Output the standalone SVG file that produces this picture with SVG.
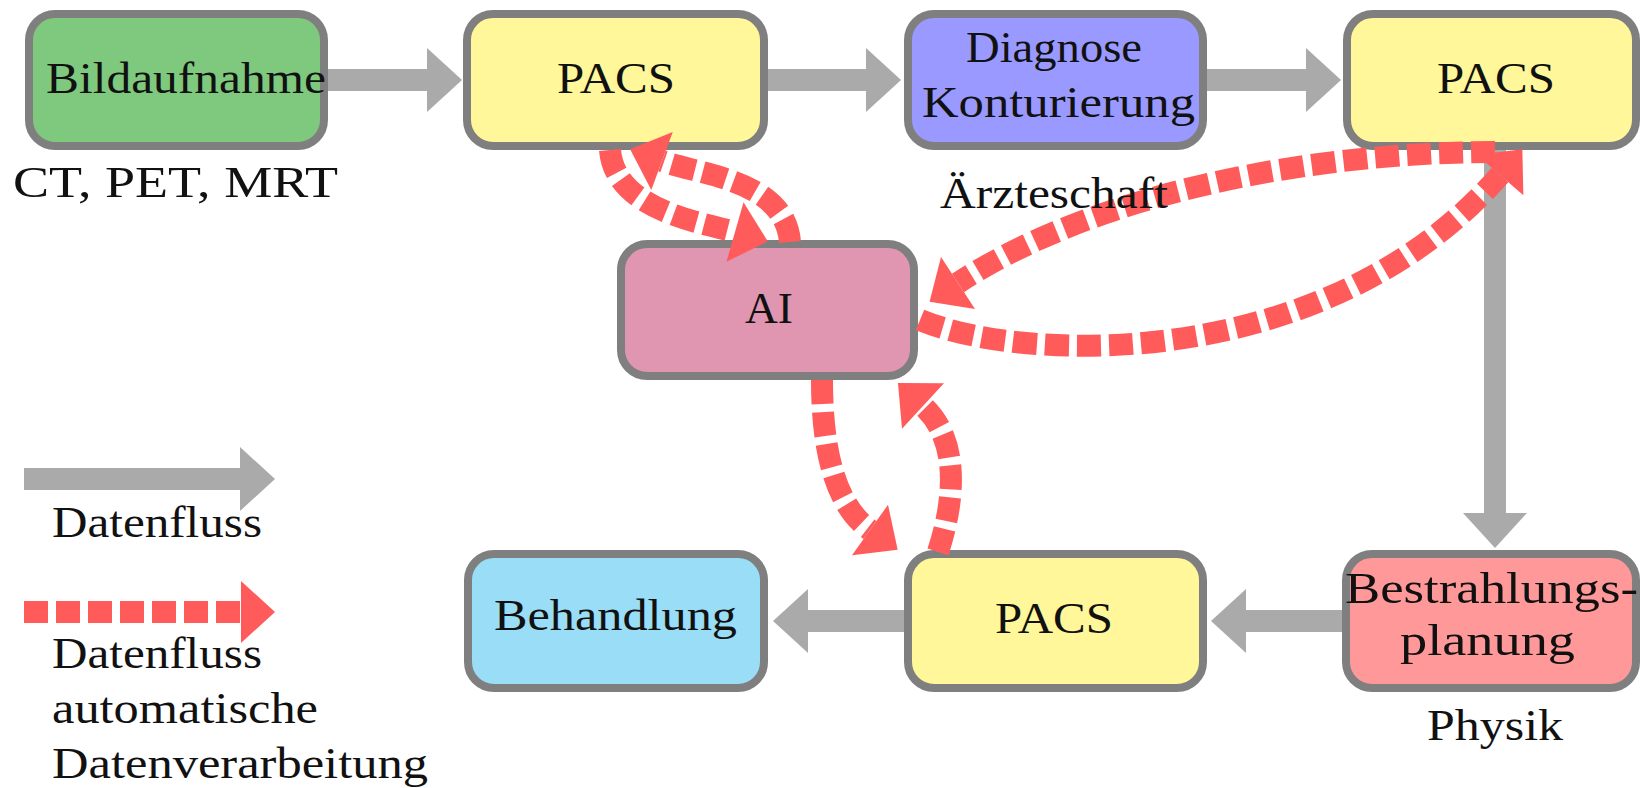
<svg xmlns="http://www.w3.org/2000/svg" width="1640" height="788" viewBox="0 0 1640 788">
<style>
.box{stroke:#7f7f7f;stroke-width:8}
.t{font-family:"Liberation Serif","Times New Roman",serif;font-size:45px;fill:#111}
.flow{fill:none;stroke:#aaaaaa;stroke-width:22;marker-end:url(#ga)}
.auto{fill:none;stroke:#ff5b5b;stroke-width:22;stroke-dasharray:24 8;marker-end:url(#ra)}
</style>
<defs>
<marker id="ga" markerUnits="userSpaceOnUse" markerWidth="40" markerHeight="70" viewBox="0 -35 40 70" refX="0" refY="0" orient="auto" overflow="visible">
<path d="M0,-32 L35,0 L0,32 z" fill="#aaaaaa"/>
</marker>
<marker id="ra" markerUnits="userSpaceOnUse" markerWidth="40" markerHeight="70" viewBox="0 -35 40 70" refX="0" refY="0" orient="auto" overflow="visible">
<path d="M0,-31 L34,0 L0,31 z" fill="#ff5b5b"/>
</marker>
</defs>
<rect width="1640" height="788" fill="#ffffff"/>

<g id="bildaufnahme">
<rect class="box" x="29" y="14" width="295" height="132" rx="26" fill="#7fc97f"/>
<text class="t" x="46" y="93" textLength="280" lengthAdjust="spacingAndGlyphs" fill="#0f3a0f">Bildaufnahme</text>
</g>
<g id="pacs1">
<rect class="box" x="467" y="14" width="297" height="132" rx="26" fill="#fff799"/>
<text class="t" x="557" y="93" textLength="118" lengthAdjust="spacingAndGlyphs">PACS</text>
</g>
<g id="diagnose">
<rect class="box" x="908" y="14" width="295" height="132" rx="26" fill="#9999ff"/>
<text class="t" x="966" y="62" textLength="176" lengthAdjust="spacingAndGlyphs" fill="#151540">Diagnose</text>
<text class="t" x="922" y="117" textLength="273" lengthAdjust="spacingAndGlyphs" fill="#151540">Konturierung</text>
</g>
<g id="pacs2">
<rect class="box" x="1347" y="14" width="289" height="132" rx="26" fill="#fff799"/>
<text class="t" x="1437" y="93" textLength="118" lengthAdjust="spacingAndGlyphs">PACS</text>
</g>
<g id="ai">
<rect class="box" x="621" y="244" width="293" height="132" rx="26" fill="#e095b0"/>
<text class="t" x="745" y="323" textLength="48" lengthAdjust="spacingAndGlyphs" fill="#2a0f1c">AI</text>
</g>
<g id="behandlung">
<rect class="box" x="468" y="554" width="296" height="134" rx="26" fill="#99ddf7"/>
<text class="t" x="494" y="630" textLength="243" lengthAdjust="spacingAndGlyphs" fill="#0d2533">Behandlung</text>
</g>
<g id="pacs3">
<rect class="box" x="908" y="554" width="295" height="134" rx="26" fill="#fff799"/>
<text class="t" x="995" y="633" textLength="118" lengthAdjust="spacingAndGlyphs">PACS</text>
</g>
<g id="bestrahlungsplanung">
<rect class="box" x="1346" y="554" width="290" height="134" rx="26" fill="#ff9999"/>
<text class="t" x="1345" y="603" textLength="293" lengthAdjust="spacingAndGlyphs" fill="#3d0c0c">Bestrahlungs-</text>
<text class="t" x="1400" y="655" textLength="175" lengthAdjust="spacingAndGlyphs" fill="#3d0c0c">planung</text>
</g>

<g id="connectors">
<path class="flow" d="M328 80 H427"/>
<path class="flow" d="M768 80 H866"/>
<path class="flow" d="M1207 80 H1306"/>
<path class="flow" d="M1495 150 V513"/>
<path class="flow" d="M1342 621 H1246"/>
<path class="flow" d="M904 621 H808"/>
<path class="auto" d="M610 150 C615 210 700 222 735 232"/>
<path class="auto" d="M790 242 C785 180 700 175 662 161"/>
<path class="auto" d="M1495 152 C1320 152 1100 190 958 283"/>
<path class="auto" d="M920 320 C1030 365 1330 370 1500 175"/>
<path class="auto" d="M822 380 C822 450 835 505 870 530"/>
<path class="auto" d="M938 552 C955 500 960 440 923 406"/>
</g>

<g id="labels">
<text class="t" x="13" y="197" textLength="325" lengthAdjust="spacingAndGlyphs">CT, PET, MRT</text>
<text class="t" x="940" y="208" textLength="228" lengthAdjust="spacingAndGlyphs">Ärzteschaft</text>
<text class="t" x="1427" y="740" textLength="136" lengthAdjust="spacingAndGlyphs">Physik</text>
</g>

<g id="legend">
<path class="flow" d="M24 479 H240"/>
<text class="t" x="52" y="537" textLength="210" lengthAdjust="spacingAndGlyphs">Datenfluss</text>
<path class="auto" d="M24 612 H241"/>
<text class="t" x="52" y="668" textLength="210" lengthAdjust="spacingAndGlyphs">Datenfluss</text>
<text class="t" x="52" y="723" textLength="266" lengthAdjust="spacingAndGlyphs">automatische</text>
<text class="t" x="52" y="778" textLength="376" lengthAdjust="spacingAndGlyphs">Datenverarbeitung</text>
</g>
</svg>
